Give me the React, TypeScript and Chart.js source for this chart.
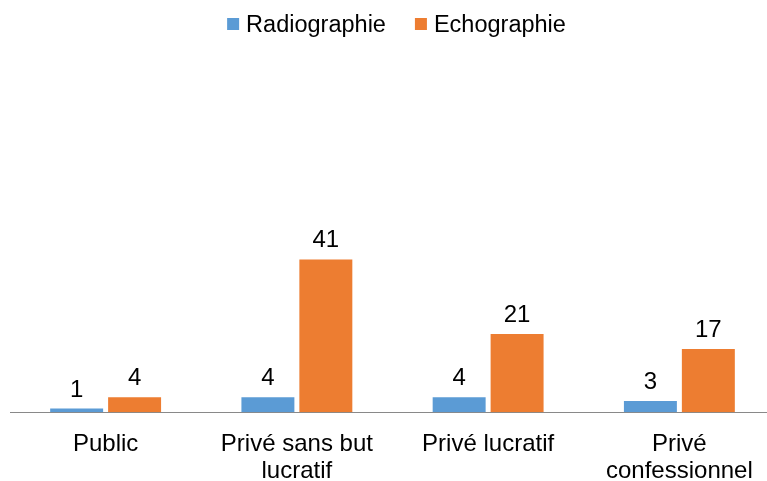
import React, { useEffect, useRef } from "react";
import { Chart, registerables } from "chart.js";

Chart.register(...registerables);

const categories: (string | string[])[] = [
  "Public",
  ["Privé sans but", "lucratif"],
  "Privé lucratif",
  ["Privé", "confessionnel"],
];
const radiographie = [1, 4, 4, 3];
const echographie = [4, 41, 21, 17];
const seriesNames = ["Radiographie", "Echographie"];
const colors = ["#5B9BD5", "#ED7D31"];

const FONT = "'Liberation Sans', Arial, sans-serif";
const VIEW_W = 767;

const valueLabels = {
  id: "valueLabels",
  afterDatasetsDraw(chart: any) {
    const ctx = chart.ctx;
    ctx.save();
    ctx.font = `24px ${FONT}`;
    ctx.fillStyle = "#000";
    ctx.textAlign = "center";
    ctx.textBaseline = "alphabetic";
    chart.data.datasets.forEach((ds: any, i: number) => {
      const meta = chart.getDatasetMeta(i);
      meta.data.forEach((el: any, j: number) => {
        ctx.fillText(String(ds.data[j]), el.x, el.y - 12);
      });
    });
    ctx.restore();
  },
};

const customLegend = {
  id: "customLegend",
  afterDraw(chart: any) {
    const ctx = chart.ctx;
    ctx.save();
    ctx.font = `23.5px ${FONT}`;
    ctx.textBaseline = "alphabetic";
    ctx.textAlign = "left";
    const box = 12;
    const gapText = 7;
    const gapItem = 29;
    const widths = chart.data.datasets.map((ds: any) => ctx.measureText(ds.label).width);
    const total =
      widths.reduce((a: number, w: number) => a + w + box + gapText, 0) +
      gapItem * (widths.length - 1);
    let x = VIEW_W / 2 + 13 - total / 2;
    chart.data.datasets.forEach((ds: any, i: number) => {
      ctx.fillStyle = ds.backgroundColor;
      ctx.fillRect(x, 18, box, box);
      ctx.fillStyle = "#000";
      ctx.fillText(ds.label, x + box + gapText, 32);
      x += box + gapText + widths[i] + gapItem;
    });
    ctx.restore();
  },
};

export default function App() {
  const ref = useRef<HTMLCanvasElement>(null);
  useEffect(() => {
    document.body.style.margin = "0";
    const chart = new Chart(ref.current!, {
      type: "bar",
      data: {
        labels: categories,
        datasets: [
          { label: seriesNames[0], data: radiographie, backgroundColor: colors[0] },
          { label: seriesNames[1], data: echographie, backgroundColor: colors[1] },
        ],
      },
      options: {
        animation: false,
        responsive: false,
        maintainAspectRatio: false,
        layout: { padding: { left: 10, right: 0, top: 47, bottom: -15 } },
        datasets: {
          bar: { categoryPercentage: 0.606, barPercentage: 0.914 },
        },
        plugins: {
          legend: { display: false },
          tooltip: { enabled: false },
        },
        scales: {
          x: {
            grid: { display: false },
            border: { display: true, color: "#898989", width: 1 },
            afterFit: (scale: any) => {
              scale.paddingLeft = 0;
              scale.paddingRight = 0;
            },
            ticks: {
              font: { family: FONT, size: 24, lineHeight: 1.12 },
              color: "#000",
              padding: 11,
              maxRotation: 0,
              autoSkip: false,
            },
          },
          y: {
            display: false,
            min: 0,
            max: 98,
          },
        },
      },
      plugins: [valueLabels, customLegend],
    });
    return () => chart.destroy();
  }, []);
  return (
    <div
      style={{
        position: "absolute",
        left: 0,
        top: 0,
        width: VIEW_W,
        height: 481,
        overflow: "hidden",
      }}
    >
      <canvas ref={ref} width={775} height={481} />
    </div>
  );
}
